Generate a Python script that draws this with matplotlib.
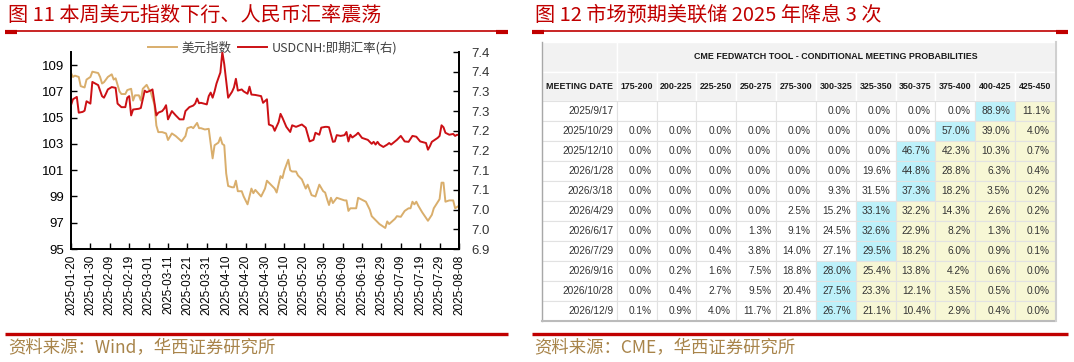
import numpy as np
import pandas as pd
import matplotlib
matplotlib.use("Agg")
from matplotlib import pyplot as plt
import matplotlib.dates as mdates
from matplotlib.patches import Rectangle

plt.rcParams['font.family'] = ['Noto Sans CJK SC', 'DejaVu Sans']

# ---- data: left chart (days counted from 2025-01-20) ----
START = pd.Timestamp('2025-01-20')

dxy_day = [0, 1, 2, 4, 5, 7, 8, 10, 11, 14, 15, 16, 17, 19, 21, 22, 23, 25, 26, 28,
           29, 31, 32, 33, 35, 36, 37, 39, 40, 41, 43, 44, 45, 47, 49, 50, 52, 54, 57, 59,
           60, 62, 63, 65, 66, 67, 69, 71, 72, 73, 74, 76, 77, 78, 79, 80, 81, 83, 84, 85,
           86, 88, 89, 91, 92, 93, 94, 95, 98, 100, 101, 103, 105, 106, 108, 109, 110, 112, 113, 114,
           116, 117, 119, 121, 122, 124, 126, 128, 130, 131, 132, 133, 134, 135, 137, 139, 141, 142, 143, 144,
           147, 148, 150, 152, 154, 155, 157, 159, 162, 163, 164, 167, 168, 170, 172, 174, 175, 176, 177, 178,
           179, 181, 184, 186, 187, 190, 191, 192, 193, 195, 197, 198, 199, 200]
dxy_val = [108.4, 108.1, 108.2, 108.1, 107.4, 107.3, 107.9, 108.1, 108.5, 108.4, 108.1, 107.6, 107.7, 108.1, 108.3, 107.9, 108.0, 107.0, 106.8, 106.8,
           107.1, 107.2, 106.3, 106.7, 106.7, 106.3, 107.2, 107.5, 107.2, 107.0, 106.0, 104.4, 103.9, 103.9, 103.8, 103.3, 103.8, 103.6, 103.2, 103.6,
           104.2, 104.3, 104.2, 104.6, 104.2, 104.2, 104.1, 104.15, 103.0, 101.9, 102.9, 103.1, 103.5, 103.0, 102.9, 100.75, 99.8, 99.7, 99.7, 100.2,
           99.4, 99.4, 99.0, 98.4, 99.0, 99.6, 99.25, 99.5, 99.0, 99.6, 100.2, 99.9, 99.6, 99.3, 100.55, 100.4, 101.0, 101.8, 101.0, 100.9,
           100.9, 100.6, 100.3, 99.6, 99.9, 99.1, 99.0, 99.9, 99.4, 99.3, 98.8, 98.35, 98.9, 98.5, 98.9, 98.8, 98.7, 98.7, 97.9, 98.1,
           98.1, 98.9, 98.75, 98.6, 98.0, 97.5, 97.2, 96.9, 96.6, 97.1, 96.9, 97.3, 97.5, 97.45, 97.9, 98.1, 98.1, 98.6, 98.4, 98.6,
           98.3, 97.8, 97.15, 97.6, 98.1, 98.8, 100.05, 100.05, 98.6, 98.7, 98.7, 98.1, 98.2, 98.3]

cnh_day = [0, 1, 3, 4, 6, 7, 8, 10, 11, 14, 16, 17, 18, 19, 21, 23, 24, 26, 28, 29,
           30, 31, 32, 35, 36, 38, 39, 41, 42, 44, 45, 47, 48, 49, 50, 52, 54, 56, 58, 59,
           61, 63, 64, 65, 66, 67, 70, 71, 72, 73, 74, 75, 77, 78, 79, 80, 81, 83, 84, 85,
           86, 88, 89, 91, 92, 93, 95, 98, 99, 101, 102, 104, 105, 107, 108, 109, 111, 113, 114, 116,
           119, 121, 123, 125, 126, 128, 129, 131, 132, 133, 135, 136, 137, 139, 141, 142, 143, 144, 145, 147,
           148, 150, 153, 155, 156, 157, 158, 159, 161, 163, 164, 165, 168, 170, 172, 174, 176, 178, 180, 183,
           184, 185, 186, 189, 190, 191, 192, 193, 195, 197, 198, 199, 200]
cnh_val = [7.265, 7.280, 7.286, 7.246, 7.248, 7.251, 7.275, 7.269, 7.324, 7.316, 7.288, 7.284, 7.294, 7.305, 7.311, 7.309, 7.269, 7.260, 7.260, 7.284,
           7.288, 7.239, 7.254, 7.256, 7.258, 7.302, 7.298, 7.302, 7.305, 7.239, 7.246, 7.250, 7.256, 7.265, 7.229, 7.250, 7.239, 7.229, 7.229, 7.250,
           7.260, 7.264, 7.269, 7.282, 7.270, 7.271, 7.267, 7.288, 7.297, 7.284, 7.300, 7.320, 7.348, 7.400, 7.369, 7.326, 7.284, 7.299, 7.310, 7.332,
           7.302, 7.305, 7.300, 7.294, 7.312, 7.292, 7.291, 7.288, 7.271, 7.280, 7.216, 7.212, 7.200, 7.222, 7.243, 7.233, 7.210, 7.197, 7.214, 7.210,
           7.216, 7.208, 7.173, 7.177, 7.195, 7.190, 7.208, 7.210, 7.210, 7.209, 7.172, 7.173, 7.189, 7.187, 7.189, 7.197, 7.173, 7.190, 7.183, 7.190,
           7.195, 7.182, 7.177, 7.167, 7.172, 7.165, 7.172, 7.165, 7.159, 7.165, 7.169, 7.165, 7.177, 7.187, 7.173, 7.172, 7.187, 7.185, 7.173, 7.169,
           7.152, 7.161, 7.172, 7.182, 7.187, 7.214, 7.209, 7.195, 7.190, 7.192, 7.187, 7.190, 7.189]

# ---- data: right table ----
meeting_dates = ['2025/9/17', '2025/10/29', '2025/12/10', '2026/1/28', '2026/3/18', '2026/4/29',
                 '2026/6/17', '2026/7/29', '2026/9/16', '2026/10/28', '2026/12/9']
rate_bins = ['175-200', '200-225', '225-250', '250-275', '275-300', '300-325',
             '325-350', '350-375', '375-400', '400-425', '425-450']
probs = [
    [None, None, None, None, None, 0.0, 0.0, 0.0, 0.0, 88.9, 11.1],
    [0.0, 0.0, 0.0, 0.0, 0.0, 0.0, 0.0, 0.0, 57.0, 39.0, 4.0],
    [0.0, 0.0, 0.0, 0.0, 0.0, 0.0, 0.0, 46.7, 42.3, 10.3, 0.7],
    [0.0, 0.0, 0.0, 0.0, 0.0, 0.0, 19.6, 44.8, 28.8, 6.3, 0.4],
    [0.0, 0.0, 0.0, 0.0, 0.0, 9.3, 31.5, 37.3, 18.2, 3.5, 0.2],
    [0.0, 0.0, 0.0, 0.0, 2.5, 15.2, 33.1, 32.2, 14.3, 2.6, 0.2],
    [0.0, 0.0, 0.0, 1.3, 9.1, 24.5, 32.6, 22.9, 8.2, 1.3, 0.1],
    [0.0, 0.0, 0.4, 3.8, 14.0, 27.1, 29.5, 18.2, 6.0, 0.9, 0.1],
    [0.0, 0.2, 1.6, 7.5, 18.8, 28.0, 25.4, 13.8, 4.2, 0.6, 0.0],
    [0.0, 0.4, 2.7, 9.5, 20.4, 27.5, 23.3, 12.1, 3.5, 0.5, 0.0],
    [0.1, 0.9, 4.0, 11.7, 21.8, 26.7, 21.1, 10.4, 2.9, 0.4, 0.0],
]

RED = '#C00000'
LINE_RED = '#CC1015'
GOLD = '#D9AE6C'
SRC = '#A8844A'
W, H = 1074, 362

fig = plt.figure(figsize=(W / 100, H / 100), dpi=100)

# overlay in pixel coordinates for titles, rules and the table
ov = fig.add_axes([0, 0, 1, 1])
ov.set_xlim(0, W)
ov.set_ylim(H, 0)
ov.axis('off')

ov.text(8, 15, '图 11 本周美元指数下行、人民币汇率震荡', color=RED, fontsize=14.5, va='center')
ov.text(535, 15, '图 12 市场预期美联储 2025 年降息 3 次', color=RED, fontsize=14.5, va='center')
for x0, x1 in [(5, 508), (532, 1068)]:
    ov.plot([x0, x1], [31, 31], color=RED, lw=1.2, solid_capstyle='butt')
    ov.plot([x0, x0 + 12], [31.5, 31.5], color=RED, lw=3, solid_capstyle='butt')
    ov.plot([x1 - 12, x1], [31.5, 31.5], color=RED, lw=3, solid_capstyle='butt')
    ov.plot([x0, x1], [333.5, 333.5], color=RED, lw=2.4, solid_capstyle='butt')
ov.text(8, 348, '资料来源：Wind，华西证券研究所', color=SRC, fontsize=12.5, va='center')
ov.text(534, 348, '资料来源：CME，华西证券研究所', color=SRC, fontsize=12.5, va='center')

# ---- left chart ----
ax = fig.add_axes([71 / W, 1 - 249 / H, (459 - 71) / W, (249 - 52) / H])
ax2 = ax.twinx()
d1 = START + pd.to_timedelta(dxy_day, unit='D')
d2 = START + pd.to_timedelta(cnh_day, unit='D')
l1, = ax.plot(d1, dxy_val, color=GOLD, lw=1.4, label='美元指数')
l2, = ax2.plot(d2, cnh_val, color=LINE_RED, lw=1.4, label='USDCNH:即期汇率(右)')

ax.set_xlim(START, START + pd.Timedelta(days=200))
ax.set_ylim(95, 110)
ax.set_yticks(range(95, 110, 2))
ax2.set_ylim(6.9, 7.4)
ax2.set_yticks(np.arange(6.9, 7.401, 0.05))
ax2.set_yticklabels([f'{np.floor(v * 10 + 0.5 + 1e-9) / 10:.1f}' for v in np.arange(6.9, 7.401, 0.05)])
ax.set_xticks(pd.date_range(START, periods=21, freq='10D'))
ax.xaxis.set_major_formatter(mdates.DateFormatter('%Y-%m-%d'))

for a in (ax, ax2):
    a.spines['top'].set_visible(False)
    for s in ('left', 'right', 'bottom'):
        a.spines[s].set_linewidth(1.3)
    a.tick_params(direction='in', length=4, width=1)
ax.tick_params(axis='x', labelrotation=90, pad=4)
ax.tick_params(axis='y', pad=5)
ax2.tick_params(axis='y', pad=9)
for lab in ax.get_xticklabels():
    lab.set_fontfamily('Liberation Sans')
    lab.set_fontsize(8.5)
for lab in ax.get_yticklabels() + ax2.get_yticklabels():
    lab.set_fontfamily('Liberation Sans')
    lab.set_fontsize(9.5)
for lab in ax2.get_yticklabels():
    lab.set_color('#333333')

leg = ax2.legend(handles=[l1, l2], loc='center', bbox_to_anchor=(0.52, 1.02), ncol=2,
                 frameon=False, fontsize=9, handlelength=2.3, handletextpad=0.4,
                 columnspacing=0.5, borderaxespad=0)
for t in leg.get_texts():
    t.set_color('#404040')

# ---- right table ----
tx0, tx1 = 542, 1055
date_w = 74.7
col_w = (tx1 - tx0 - date_w) / len(rate_bins)
h1_top, h1_bot, h2_bot = 41.7, 71.7, 100.7
row_h = 20
HDR = '#F2F2F2'
CYAN = '#BDF1FA'
YEL = '#F7F7D5'
GRID = '#E2E2E2'

ov.add_patch(Rectangle((tx0, h1_top), date_w, h1_bot - h1_top, fc=HDR, ec='white', lw=1))
ov.add_patch(Rectangle((tx0 + date_w, h1_top), tx1 - tx0 - date_w, h1_bot - h1_top, fc=HDR, ec='white', lw=1))
ov.text(tx0 + date_w + (tx1 - tx0 - date_w) / 2, (h1_top + h1_bot) / 2,
        'CME FEDWATCH TOOL - CONDITIONAL MEETING PROBABILITIES', ha='center', va='center',
        fontsize=6.4, fontweight='bold', family='Liberation Sans', color='#1A1A1A')
ov.add_patch(Rectangle((tx0, h1_bot), date_w, h2_bot - h1_bot, fc=HDR, ec='white', lw=1))
ov.text(tx0 + date_w / 2, (h1_bot + h2_bot) / 2, 'MEETING DATE', ha='center', va='center',
        fontsize=6.4, fontweight='bold', family='Liberation Sans', color='#1A1A1A')
for j, b in enumerate(rate_bins):
    cx = tx0 + date_w + j * col_w
    ov.add_patch(Rectangle((cx, h1_bot), col_w, h2_bot - h1_bot, fc=HDR, ec='white', lw=1))
    ov.text(cx + col_w / 2, (h1_bot + h2_bot) / 2, b, ha='center', va='center',
            fontsize=6.4, fontweight='bold', family='Liberation Sans', color='#1A1A1A')

for i, (md, row) in enumerate(zip(meeting_dates, probs)):
    ry = h2_bot + i * row_h
    ov.add_patch(Rectangle((tx0, ry), date_w, row_h, fc='white', ec=GRID, lw=0.8))
    ov.text(tx0 + date_w - 3.5, ry + row_h / 2, md, ha='right', va='center',
            fontsize=7.3, family='Liberation Sans', color='#333333')
    vals = [v if v is not None else -1 for v in row]
    top = int(np.argmax(vals))
    for j, v in enumerate(row):
        cx = tx0 + date_w + j * col_w
        fc = CYAN if j == top else (YEL if j > top else 'white')
        ov.add_patch(Rectangle((cx, ry), col_w, row_h, fc=fc, ec=GRID, lw=0.8))
        if v is not None:
            ov.text(cx + col_w - 5, ry + row_h / 2, f'{v:.1f}%', ha='right', va='center',
                    fontsize=7.3, family='Liberation Sans', color='#333333')

t_bot = h2_bot + len(meeting_dates) * row_h
ov.plot([tx0, tx0], [h1_top, t_bot], color='#A8A8A8', lw=1)
ov.plot([tx0, tx1], [t_bot, t_bot], color='#BBBBBB', lw=1.5)
ov.plot([tx1 + 0.5, tx1 + 0.5], [h1_top, t_bot], color='#D0D0D0', lw=1.5)

fig.savefig('out.png', dpi=100)
